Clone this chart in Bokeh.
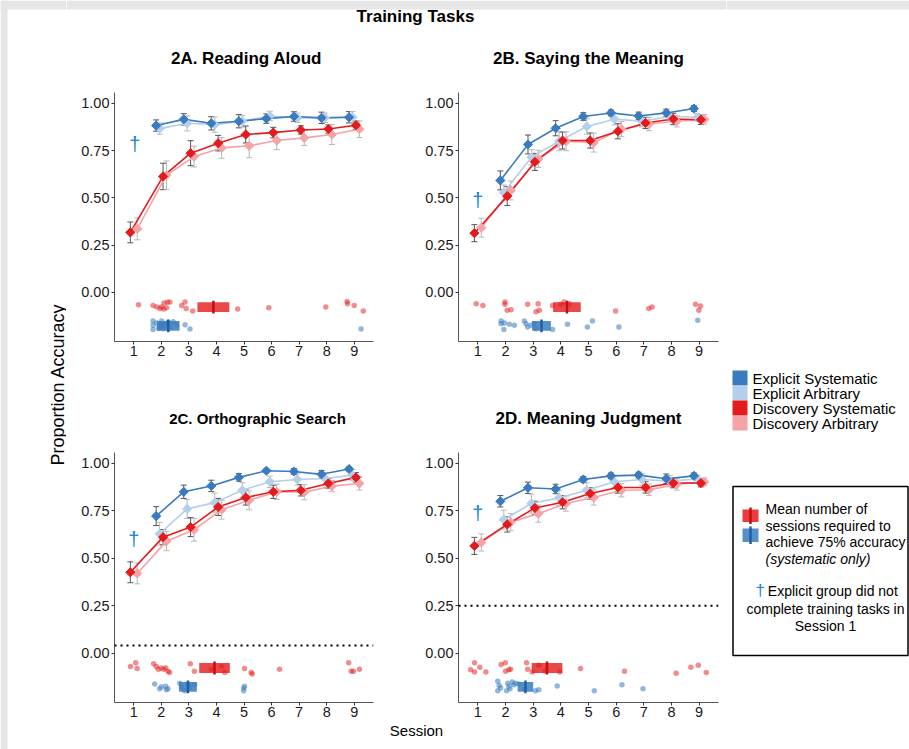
import numpy as np
from bokeh.plotting import figure
from bokeh.layouts import row, column
from bokeh.models import Range1d, FixedTicker, Span, Whisker, TeeHead, ColumnDataSource
from bokeh.core.properties import value
from bokeh.embed import file_html
from bokeh.resources import INLINE

FONT = "Liberation Sans"

# ---------------- data ----------------
sessions_all = [1, 2, 3, 4, 5, 6, 7, 8, 9]
sessions_exp = [2, 3, 4, 5, 6, 7, 8, 9]
group_names = ["Explicit Systematic", "Explicit Arbitrary", "Discovery Systematic", "Discovery Arbitrary"]
y_ticks = [0.0, 0.25, 0.5, 0.75, 1.0]
y_tick_labels = ["0.00", "0.25", "0.50", "0.75", "1.00"]
panel_titles = ["2A. Reading Aloud", "2B. Saying the Meaning", "2C. Orthographic Search", "2D. Meaning Judgment"]

# Panel A - Reading Aloud
A_es = [0.882, 0.915, 0.894, 0.905, 0.919, 0.930, 0.923, 0.926]
A_ea = [0.866, 0.894, 0.887, 0.905, 0.933, 0.923, 0.923, 0.926]
A_ds = [0.317, 0.613, 0.736, 0.789, 0.835, 0.845, 0.859, 0.864, 0.884]
A_da = [0.336, 0.620, 0.718, 0.764, 0.775, 0.803, 0.817, 0.835, 0.863]
A_es_se = [0.030, 0.030, 0.035, 0.035, 0.025, 0.025, 0.030, 0.030]
A_ea_se = [0.030, 0.040, 0.040, 0.030, 0.025, 0.025, 0.025, 0.030]
A_ds_se = [0.055, 0.070, 0.066, 0.041, 0.045, 0.028, 0.022, 0.022, 0.022]
A_da_se = [0.058, 0.075, 0.055, 0.055, 0.063, 0.048, 0.040, 0.053, 0.044]

# Panel B - Saying the Meaning
B_es = [0.592, 0.782, 0.868, 0.930, 0.949, 0.933, 0.949, 0.972]
B_ea = [0.528, 0.715, 0.799, 0.877, 0.916, 0.905, 0.930, 0.926]
B_ds = [0.313, 0.509, 0.690, 0.803, 0.803, 0.852, 0.896, 0.917, 0.913]
B_da = [0.342, 0.539, 0.706, 0.799, 0.792, 0.863, 0.890, 0.905, 0.915]
B_es_se = [0.050, 0.050, 0.040, 0.020, 0.015, 0.020, 0.020, 0.015]
B_ea_se = [0.040, 0.040, 0.050, 0.040, 0.030, 0.030, 0.020, 0.020]
B_ds_se = [0.045, 0.050, 0.045, 0.045, 0.040, 0.040, 0.030, 0.030, 0.025]
B_da_se = [0.050, 0.050, 0.045, 0.050, 0.050, 0.040, 0.035, 0.030, 0.025]

# Panel C - Orthographic Search
C_es = [0.722, 0.850, 0.881, 0.926, 0.961, 0.957, 0.942, 0.970]
C_ea = [0.629, 0.760, 0.793, 0.858, 0.903, 0.915, 0.920, 0.938]
C_ds = [0.426, 0.611, 0.664, 0.770, 0.820, 0.850, 0.858, 0.894, 0.926]
C_da = [0.420, 0.590, 0.650, 0.756, 0.805, 0.850, 0.848, 0.880, 0.894]
C_es_se = [0.050, 0.035, 0.030, 0.020, 0.010, 0.015, 0.020, 0.010]
C_ea_se = [0.060, 0.050, 0.050, 0.040, 0.030, 0.030, 0.030, 0.030]
C_ds_se = [0.055, 0.040, 0.050, 0.045, 0.040, 0.035, 0.030, 0.025, 0.025]
C_da_se = [0.055, 0.050, 0.060, 0.050, 0.050, 0.040, 0.040, 0.030, 0.035]

# Panel D - Meaning Judgment
D_es = [0.800, 0.871, 0.865, 0.915, 0.934, 0.938, 0.919, 0.934]
D_ea = [0.703, 0.788, 0.818, 0.858, 0.903, 0.915, 0.906, 0.917]
D_ds = [0.565, 0.678, 0.765, 0.795, 0.841, 0.873, 0.873, 0.896, 0.896]
D_da = [0.583, 0.690, 0.735, 0.788, 0.820, 0.858, 0.861, 0.889, 0.903]
D_es_se = [0.030, 0.030, 0.025, 0.015, 0.015, 0.015, 0.025, 0.015]
D_ea_se = [0.050, 0.050, 0.040, 0.040, 0.030, 0.030, 0.030, 0.020]
D_ds_se = [0.045, 0.040, 0.035, 0.035, 0.030, 0.030, 0.030, 0.025, 0.020]
D_da_se = [0.045, 0.045, 0.045, 0.040, 0.040, 0.035, 0.030, 0.030, 0.020]

# Individual sessions-to-75% (jittered), discovery (red) and explicit (blue), systematic only
A_red_x = [1.17, 1.70, 1.83, 1.95, 2.01, 2.09, 2.19, 2.22, 2.31, 2.10, 2.74, 2.86, 2.90, 3.14, 4.77, 5.90, 7.97, 8.74, 8.76, 9.00, 9.33]
A_red_y = [-0.065, -0.070, -0.077, -0.085, -0.077, -0.088, -0.082, -0.053, -0.051, -0.056, -0.070, -0.051, -0.085, -0.099, -0.088, -0.082, -0.077, -0.048, -0.060, -0.070, -0.099]
A_blue_x = [1.70, 1.70, 1.70, 1.83, 1.90, 1.95, 2.00, 2.01, 2.07, 2.10, 2.19, 2.25, 2.31, 2.43, 2.56, 2.86, 3.04, 9.25]
A_blue_y = [-0.151, -0.174, -0.197, -0.162, -0.190, -0.180, -0.170, -0.151, -0.192, -0.175, -0.166, -0.158, -0.183, -0.155, -0.174, -0.171, -0.194, -0.194]

B_red_x = [0.94, 1.18, 1.98, 1.98, 2.06, 2.20, 2.80, 3.10, 3.18, 3.22, 3.70, 4.00, 4.12, 4.30, 5.98, 7.18, 7.30, 8.87, 8.99, 9.05]
B_red_y = [-0.060, -0.069, -0.051, -0.063, -0.095, -0.092, -0.063, -0.102, -0.060, -0.095, -0.069, -0.063, -0.051, -0.060, -0.099, -0.085, -0.077, -0.063, -0.095, -0.072]
B_blue_x = [1.84, 1.84, 1.94, 1.96, 2.14, 2.32, 2.68, 2.74, 2.80, 2.92, 3.04, 3.10, 3.70, 4.24, 4.96, 5.14, 6.10, 8.95]
B_blue_y = [-0.151, -0.166, -0.197, -0.162, -0.169, -0.174, -0.151, -0.166, -0.183, -0.174, -0.166, -0.192, -0.197, -0.169, -0.183, -0.151, -0.183, -0.148]

C_red_x = [0.88, 1.07, 1.12, 1.72, 1.82, 1.89, 2.00, 2.09, 2.16, 2.24, 2.30, 3.05, 3.20, 3.81, 4.18, 4.30, 5.02, 5.26, 5.30, 6.29, 8.80, 8.89, 8.97, 9.19]
C_red_y = [-0.071, -0.051, -0.081, -0.056, -0.071, -0.085, -0.078, -0.085, -0.078, -0.095, -0.102, -0.056, -0.095, -0.085, -0.069, -0.102, -0.081, -0.102, -0.110, -0.085, -0.051, -0.095, -0.095, -0.085]
C_blue_x = [1.76, 1.94, 2.00, 2.16, 2.18, 2.24, 2.67, 2.73, 2.85, 2.97, 3.03, 3.21, 4.99, 4.99, 5.02]
C_blue_y = [-0.163, -0.187, -0.177, -0.175, -0.193, -0.187, -0.159, -0.177, -0.198, -0.163, -0.180, -0.166, -0.184, -0.198, -0.175]

D_red_x = [0.74, 0.88, 0.88, 1.07, 1.29, 1.84, 1.99, 2.00, 2.12, 2.18, 2.76, 2.80, 2.97, 3.20, 3.44, 3.96, 4.71, 6.30, 8.17, 8.70, 8.97, 9.26]
D_red_y = [-0.087, -0.051, -0.099, -0.074, -0.099, -0.060, -0.051, -0.095, -0.087, -0.085, -0.051, -0.085, -0.099, -0.064, -0.095, -0.099, -0.081, -0.095, -0.106, -0.074, -0.064, -0.102]
D_blue_x = [1.72, 1.72, 1.77, 1.82, 2.04, 2.08, 2.12, 2.16, 2.24, 2.30, 2.36, 2.48, 2.69, 3.08, 3.20, 3.87, 5.21, 6.21, 6.97]
D_blue_y = [-0.148, -0.198, -0.170, -0.184, -0.198, -0.159, -0.175, -0.187, -0.152, -0.166, -0.159, -0.163, -0.187, -0.198, -0.193, -0.173, -0.198, -0.166, -0.187]

# Mean sessions to reach 75% accuracy (systematic only) and its +/- half width
red_mean = [3.89, 4.22, 3.93, 3.50]
red_half = [0.58, 0.50, 0.555, 0.555]
blue_mean = [2.25, 3.30, 2.965, 2.72]
blue_half = [0.41, 0.34, 0.325, 0.28]

dagger_x = [1.04, 1.0, 1.0, 1.0]
dagger_y = [0.785, 0.486, 0.600, 0.738]
chance_level = [None, None, 0.04, 0.25]

# ---------------- style ----------------
COL_ES = "#3a7bbf"
COL_EA = "#b4cfea"
COL_DS = "#e41a1c"
COL_DA = "#f4a3a6"
ERR_SYS = "#555555"
ERR_ARB = "#b8b8b8"
DAGGER = "#1c7fd6"
EDGE_GRAY = "#e6e6e6"


def style_axes(p):
    p.xaxis.ticker = FixedTicker(ticks=sessions_all)
    p.yaxis.ticker = FixedTicker(ticks=y_ticks)
    p.yaxis.major_label_overrides = {t: l for t, l in zip(y_ticks, y_tick_labels)}
    for ax in (p.xaxis, p.yaxis):
        ax.axis_line_color = "#555555"
        ax.axis_line_width = 1
        ax.major_tick_line_color = "#333333"
        ax.major_tick_in = 0
        ax.major_tick_out = 3
        ax.minor_tick_line_color = None
        ax.major_label_text_font = FONT
        ax.major_label_text_font_size = "14.5px"
        ax.major_label_text_color = "#1a1a1a"
    p.xaxis.major_label_standoff = 1
    p.yaxis.major_label_standoff = 2
    p.grid.visible = False
    p.outline_line_color = None


def make_panel(i, es, ea, ds, da, es_se, ea_se, ds_se, da_se,
               red_x, red_y, blue_x, blue_y, width, height, bl, br, bt, bb):
    p = figure(width=width, height=height, x_range=Range1d(0.3, 9.7), y_range=Range1d(-0.26, 1.057),
               output_backend="svg", toolbar_location=None,
               min_border_left=bl, min_border_right=br, min_border_top=bt, min_border_bottom=bb)
    style_axes(p)

    s_all = np.array(sessions_all, dtype=float)
    s_exp = np.array(sessions_exp, dtype=float)
    # dodge (width 0.5): 2 groups in session 1, 4 groups afterwards
    off_ds = np.where(s_all == 1, -0.125, 0.0625)
    off_da = np.where(s_all == 1, 0.125, 0.1875)
    series = [
        (s_exp - 0.1875, np.array(es), np.array(es_se), COL_ES, ERR_SYS),
        (s_exp - 0.0625, np.array(ea), np.array(ea_se), COL_EA, ERR_ARB),
        (s_all + off_ds, np.array(ds), np.array(ds_se), COL_DS, ERR_SYS),
        (s_all + off_da, np.array(da), np.array(da_se), COL_DA, ERR_ARB),
    ]

    if chance_level[i] is not None:
        p.add_layout(Span(location=chance_level[i], dimension="width", line_color="black",
                          line_width=2, line_dash="2 4"))

    for x, m, se, col, ecol in series:
        src = ColumnDataSource(dict(x=x, lower=m - se, upper=m + se))
        p.add_layout(Whisker(base="x", lower="lower", upper="upper", source=src,
                             line_color=ecol, line_width=1,
                             upper_head=TeeHead(size=6, line_color=ecol, line_width=1),
                             lower_head=TeeHead(size=6, line_color=ecol, line_width=1)))
    order = [1, 3, 0, 2]
    for k in order:
        x, m, se, col, ecol = series[k]
        p.line(x, m, line_color=col, line_width=1.6)
    for k in order:
        x, m, se, col, ecol = series[k]
        p.scatter(x, m, marker="square", angle=np.pi / 4, size=6.5, fill_color=col, line_color=col)

    # crossbars: mean sessions to 75% accuracy
    p.quad(left=[red_mean[i] - red_half[i]], right=[red_mean[i] + red_half[i]],
           bottom=[-0.104], top=[-0.052], fill_color=COL_DS, fill_alpha=0.8, line_color=None)
    p.quad(left=[blue_mean[i] - blue_half[i]], right=[blue_mean[i] + blue_half[i]],
           bottom=[-0.203], top=[-0.152], fill_color=COL_ES, fill_alpha=0.85, line_color=None)
    p.scatter(red_x, red_y, size=5.5, fill_color=COL_DS, fill_alpha=0.5, line_color=None)
    p.scatter(blue_x, blue_y, size=5.5, fill_color=COL_ES, fill_alpha=0.55, line_color=None)
    p.segment(x0=[red_mean[i]], x1=[red_mean[i]], y0=[-0.112], y1=[-0.044], line_color="#c40d10", line_width=2.5)
    p.segment(x0=[blue_mean[i]], x1=[blue_mean[i]], y0=[-0.211], y1=[-0.144], line_color="#1f5f9f", line_width=2.5)

    p.text(x=[dagger_x[i]], y=[dagger_y[i]], text=["\u2020"], text_font=value(FONT), text_font_size="20px",
           text_color=DAGGER, text_align="center", text_baseline="middle")
    return p


def blank(w, h):
    f = figure(width=w, height=h, x_range=Range1d(0, w), y_range=Range1d(0, h),
               output_backend="svg", toolbar_location=None, min_border=0,
               x_axis_location=None, y_axis_location=None)
    f.grid.visible = False
    f.outline_line_color = None
    return f


pA = make_panel(0, A_es, A_ea, A_ds, A_da, A_es_se, A_ea_se, A_ds_se, A_da_se,
                A_red_x, A_red_y, A_blue_x, A_blue_y, 352, 282, 48, 45, 4, 29)
pB = make_panel(1, B_es, B_ea, B_ds, B_da, B_es_se, B_ea_se, B_ds_se, B_da_se,
                B_red_x, B_red_y, B_blue_x, B_blue_y, 308, 282, 40, 8, 4, 29)
pC = make_panel(2, C_es, C_ea, C_ds, C_da, C_es_se, C_ea_se, C_ds_se, C_da_se,
                C_red_x, C_red_y, C_blue_x, C_blue_y, 352, 275, 48, 45, 4, 21)
pD = make_panel(3, D_es, D_ea, D_ds, D_da, D_es_se, D_ea_se, D_ds_se, D_da_se,
                D_red_x, D_red_y, D_blue_x, D_blue_y, 308, 275, 40, 8, 4, 21)

TITLE_KW = dict(text_font=value(FONT), text_font_style="bold",
                text_align="center", text_baseline="middle", text_color="black")

# header row 1: overall title + panel titles A/B (page y 0..88, local y = 88 - page_y)
head1 = blank(660, 88)
head1.quad(left=[0], right=[660], bottom=[79], top=[88], fill_color=EDGE_GRAY, line_color=None)
head1.text(x=[349], y=[72.5], text=["Training Tasks"], text_font_size="17px", **TITLE_KW)
head1.text(x=[180, 522], y=[30, 30], text=panel_titles[:2], text_font_size="17px", **TITLE_KW)

# header row 2 (page y 370..448)
head2 = blank(660, 78)
head2.text(x=[191], y=[30], text=[panel_titles[2]], text_font_size="15px", **TITLE_KW)
head2.text(x=[522], y=[30], text=[panel_titles[3]], text_font_size="17px", **TITLE_KW)

xlab = blank(660, 26)
xlab.text(x=[350], y=[19], text=["Session"], text_font=value(FONT), text_font_size="15px",
          text_align="center", text_baseline="middle", text_color="black")

ylab = blank(66, 749)
ylab.quad(left=[0], right=[7], bottom=[0], top=[749], fill_color=EDGE_GRAY, line_color=None)
ylab.quad(left=[0], right=[66], bottom=[740], top=[749], fill_color=EDGE_GRAY, line_color=None)
ylab.text(x=[57], y=[365], text=["Proportion Accuracy"], text_font=value(FONT), text_font_size="18px",
          angle=np.pi / 2, text_align="center", text_baseline="middle", text_color="black")

# legend / key (page x 726..909, local y = 749 - page_y)
leg = blank(183, 749)
leg.quad(left=[0], right=[183], bottom=[740], top=[749], fill_color=EDGE_GRAY, line_color=None)
leg_cols = [COL_ES, COL_EA, COL_DS, COL_DA]
tops = [379, 364, 349, 334]
leg.quad(left=[6] * 4, right=[21] * 4, top=tops, bottom=[t - 15 for t in tops],
         fill_color=leg_cols, line_color=None)
leg.text(x=[26] * 4, y=[t - 7.5 for t in tops], text=group_names, text_font=value(FONT),
         text_font_size="15px", text_align="left", text_baseline="middle", text_color="black")

leg.quad(left=[6.5], right=[181.5], top=[263], bottom=[94], fill_color=None, line_color="black", line_width=1.5)
leg.quad(left=[16], right=[32], top=[240], bottom=[227.5], fill_color=COL_DS, fill_alpha=0.85, line_color=None)
leg.quad(left=[16], right=[32], top=[221], bottom=[207.5], fill_color=COL_ES, fill_alpha=0.85, line_color=None)
leg.segment(x0=[24, 24], x1=[24, 24], y0=[225.5, 205.5], y1=[242, 223], line_color=["#c40d10", "#1f5f9f"], line_width=2.5)
leg.text(x=[39, 39, 39], y=[241, 224, 207.3],
         text=["Mean number of", "sessions required to", "achieve 75% accuracy"],
         text_font=value(FONT), text_font_size="14px", text_align="left", text_baseline="middle", text_color="black")
leg.text(x=[39], y=[190.7], text=["(systematic only)"], text_font=value(FONT), text_font_size="14px",
         text_font_style="italic", text_align="left", text_baseline="middle", text_color="black")
leg.text(x=[33.7], y=[159], text=["\u2020"], text_font=value(FONT), text_font_size="17px",
         text_align="center", text_baseline="middle", text_color=DAGGER)
leg.text(x=[41.3], y=[159], text=["Explicit group did not"], text_font=value(FONT), text_font_size="14px",
         text_align="left", text_baseline="middle", text_color="black")
leg.text(x=[99, 99], y=[140.7, 123.3], text=["complete training tasks in", "Session 1"],
         text_font=value(FONT), text_font_size="14px", text_align="center", text_baseline="middle", text_color="black")

mid = column(head1, row(pA, pB), head2, row(pC, pD), xlab)
layout = row(ylab, mid, leg)

open("out.html", "w").write(file_html(layout, INLINE))
